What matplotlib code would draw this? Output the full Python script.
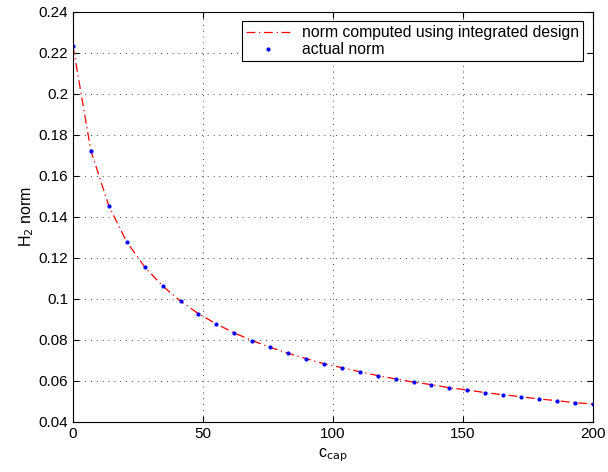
import matplotlib
matplotlib.use('Agg')
import matplotlib.pyplot as plt
import numpy as np

plt.rcParams['font.family'] = ['Liberation Sans', 'DejaVu Sans']

# capacitor cost values and the H2 norms
c_cap = np.linspace(0, 200, 30)
h2_norm = [0.2234, 0.1722, 0.1454, 0.1278, 0.1156, 0.1063, 0.0989, 0.0928,
           0.0878, 0.0834, 0.0797, 0.0764, 0.0735, 0.0709, 0.0684, 0.0665,
           0.0645, 0.0626, 0.0610, 0.0594, 0.0582, 0.0567, 0.0556, 0.0543,
           0.0533, 0.0523, 0.0512, 0.0504, 0.0494, 0.0488]

fig = plt.figure(figsize=(6.08, 4.72), dpi=100)
ax = fig.add_axes([0.120, 0.106, 0.855, 0.869])

ax.plot(c_cap, h2_norm, color='red', linestyle=(0, (7, 3, 1, 3)), linewidth=0.9,
        label='norm computed using integrated design')
ax.plot(c_cap, h2_norm, linestyle='none', marker='.', markersize=4, color='blue',
        label='actual norm')

ax.set_xlim(0, 200)
ax.set_ylim(0.04, 0.24)
ax.set_xticks([0, 50, 100, 150, 200])
ax.set_yticks(np.arange(0.04, 0.2401, 0.02))
ax.set_yticklabels(['0.04', '0.06', '0.08', '0.1', '0.12', '0.14', '0.16',
                    '0.18', '0.2', '0.22', '0.24'])
ax.tick_params(direction='in', top=True, right=True, labelsize=11, length=4)
ax.grid(True, color='#444444', linestyle=(0, (1, 5)), linewidth=0.7)
for s in ax.spines.values():
    s.set_linewidth(0.8)

ax.set_xlabel('c$_{\\rm cap}$', fontsize=11.5)
ax.set_ylabel('H$_2$ norm', fontsize=11.5, labelpad=2)

leg = ax.legend(loc='upper right', fancybox=False, edgecolor='black',
                framealpha=1, fontsize=11.3, borderaxespad=0.6,
                handlelength=2.8, handletextpad=0.8, borderpad=0.25,
                labelspacing=0.15)
leg.get_frame().set_linewidth(0.8)

fig.savefig('out.png', dpi=100)
